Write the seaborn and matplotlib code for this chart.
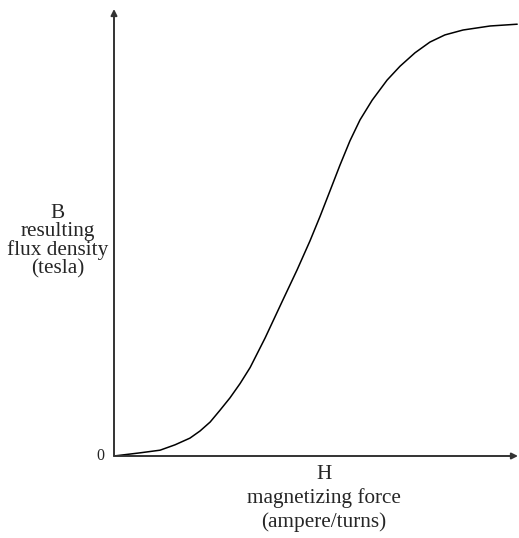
import numpy as np
import pandas as pd
import seaborn as sb
import matplotlib
matplotlib.use('Agg')
import matplotlib.pyplot as plt

# magnetizing force H (arbitrary units) and flux density B
H = [0, 6.4, 11.4, 15.1, 18.8, 21.3, 23.8, 26.2, 28.7, 31.2, 33.7, 37.4,
     41.8, 45.3, 48.5, 51.0, 53.5, 55.9, 58.4, 60.9, 63.9, 67.6, 70.8,
     74.5, 78.2, 81.9, 86.4, 93.1, 99.8]
B = [0, 0.7, 1.3, 2.5, 4.0, 5.6, 7.6, 10.2, 13.0, 16.2, 19.8, 26.4,
     34.9, 41.6, 48.1, 53.6, 59.4, 65.0, 70.5, 75.2, 79.6, 84.1, 87.2,
     90.2, 92.6, 94.2, 95.3, 96.2, 96.6]

eticheta_y = 'B\nresulting\nflux density\n(tesla)'
eticheta_x = 'H\nmagnetizing force\n(ampere/turns)'

sb.set_style('white')
plt.rcParams['font.family'] = ['Liberation Serif', 'DejaVu Serif']

fig = plt.figure(figsize=(5.19, 5.38), dpi=100)
ax = fig.add_axes([114/519, 82/538, 404/519, 447/538])

df = pd.DataFrame({'H': H, 'B': B})
sb.lineplot(data=df, x='H', y='B', ax=ax, color='black', linewidth=1.1)

ax.set_xlim(0, 100)
ax.set_ylim(0, 100)
for s in ax.spines.values():
    s.set_visible(False)
ax.set_xticks([])
ax.set_yticks([])
ax.set_xlabel('')
ax.set_ylabel('')

# axe cu sageti
ax.annotate('', xy=(1.0, 0), xytext=(0, 0), xycoords='axes fraction',
            arrowprops=dict(arrowstyle='-|>', color='#333333', lw=1.4,
                            mutation_scale=9, shrinkA=0, shrinkB=0))
ax.annotate('', xy=(0, 1.0), xytext=(0, 0), xycoords='axes fraction',
            arrowprops=dict(arrowstyle='-|>', color='#333333', lw=1.4,
                            mutation_scale=9, shrinkA=0, shrinkB=0))

ax.text(-0.025, 0, '0', transform=ax.transAxes, ha='right', va='center',
        fontsize=11.5)
ax.text(-0.14, 0.48, eticheta_y, transform=ax.transAxes, ha='center',
        va='center', fontsize=15.3, linespacing=0.95)
ax.text(0.52, -0.02, eticheta_x, transform=ax.transAxes, ha='center',
        va='top', fontsize=15.3, linespacing=1.3)

fig.savefig('out.png', dpi=100)
